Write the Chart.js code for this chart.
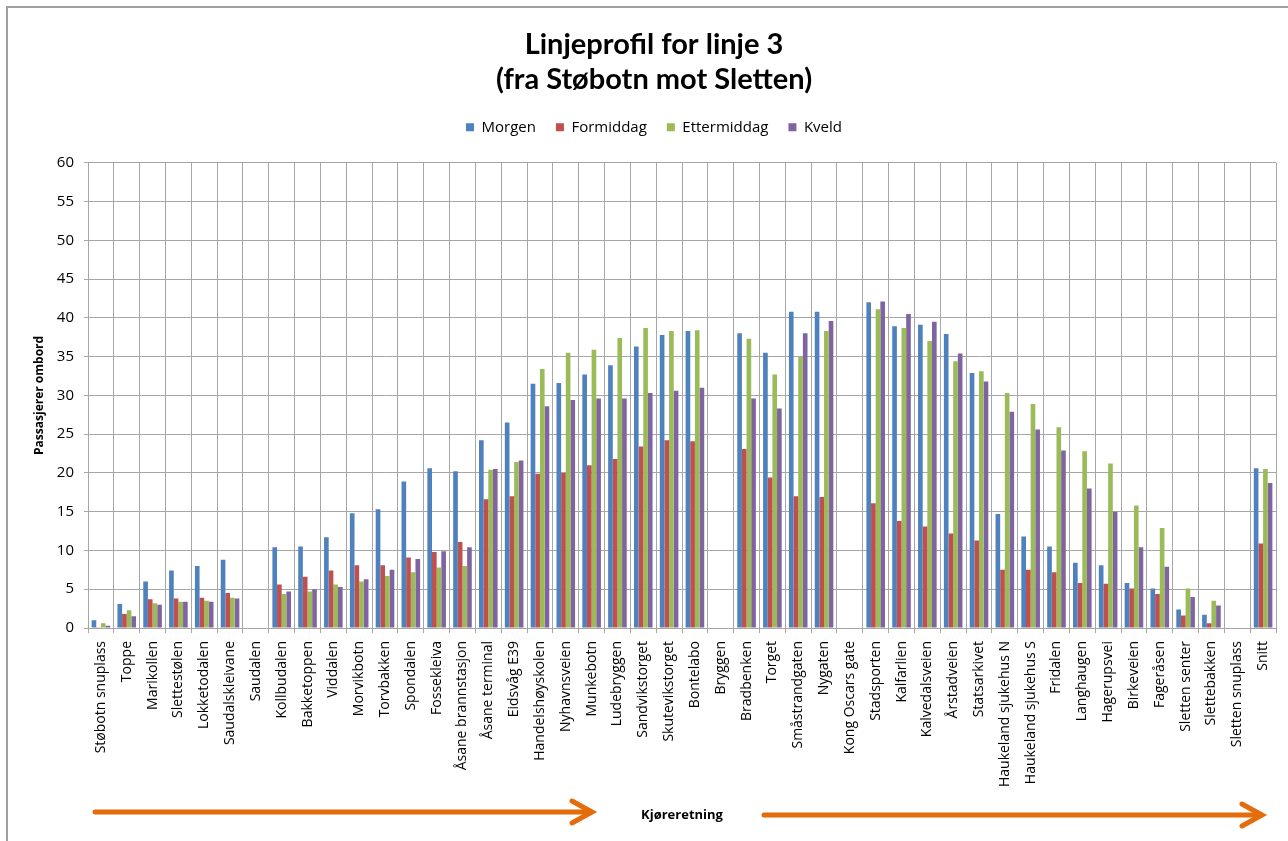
<!DOCTYPE html>
<html lang="no">
<head>
<meta charset="utf-8">
<title>Linjeprofil for linje 3</title>
<script src="https://cdn.jsdelivr.net/npm/chart.js@4.4.1/dist/chart.umd.min.js"></script>
<style>
  html, body { margin: 0; padding: 0; background: #fff; }
  #wrap { position: relative; width: 1288px; height: 841px; overflow: hidden; }
  canvas { display: block; }
</style>
</head>
<body>
<div id="wrap"><canvas id="c" width="1288" height="841"></canvas></div>
<script>
// Stopp langs linje 3, fra Støbotn mot Sletten, pluss gjennomsnitt ("Snitt")
const stops = [
  'Støbotn snuplass', 'Toppe', 'Marikollen', 'Slettestølen', 'Lokketodalen',
  'Saudalskleivane', 'Saudalen', 'Kollbudalen', 'Bakketoppen', 'Viddalen',
  'Morvikbotn', 'Torvbakken', 'Spondalen', 'Fossekleiva', 'Åsane brannstasjon',
  'Åsane terminal', 'Eidsvåg E39', 'Handelshøyskolen', 'Nyhavnsveien', 'Munkebotn',
  'Ludebryggen', 'Sandvikstorget', 'Skutevikstorget', 'Bontelabo', 'Bryggen',
  'Bradbenken', 'Torget', 'Småstrandgaten', 'Nygaten', 'Kong Oscars gate',
  'Stadsporten', 'Kalfarlien', 'Kalvedalsveien', 'Årstadveien', 'Statsarkivet',
  'Haukeland sjukehus N', 'Haukeland sjukehus S', 'Fridalen', 'Langhaugen', 'Hagerupsvei',
  'Birkeveien', 'Fageråsen', 'Sletten senter', 'Slettebakken', 'Sletten snuplass',
  'Snitt'
];

// Passasjerer ombord per tidsperiode (null = ingen registrering)
const morgen = [
  1.0, 3.1, 6.0, 7.4, 8.0, 8.8, null, 10.4, 10.5, 11.7,
  14.8, 15.3, 18.9, 20.6, 20.2, 24.2, 26.5, 31.5, 31.6, 32.7,
  33.9, 36.3, 37.8, 38.3, null, 38.0, 35.5, 40.8, 40.8, null,
  42.0, 38.9, 39.1, 37.9, 32.9, 14.7, 11.8, 10.5, 8.4, 8.1,
  5.8, 5.1, 2.4, 1.7, null, 20.6
];
const formiddag = [
  0.1, 1.8, 3.7, 3.8, 3.9, 4.5, null, 5.6, 6.6, 7.4,
  8.1, 8.1, 9.1, 9.8, 11.1, 16.6, 17.0, 19.9, 20.0, 21.0,
  21.8, 23.4, 24.2, 24.1, null, 23.1, 19.4, 17.0, 16.9, null,
  16.1, 13.8, 13.1, 12.2, 11.3, 7.5, 7.5, 7.2, 5.8, 5.7,
  5.1, 4.4, 1.6, 0.6, null, 10.9
];
const ettermiddag = [
  0.6, 2.3, 3.2, 3.4, 3.5, 3.9, null, 4.4, 4.7, 5.6,
  6.0, 6.7, 7.2, 7.8, 8.0, 20.4, 21.4, 33.4, 35.5, 35.9,
  37.4, 38.7, 38.3, 38.4, null, 37.3, 32.7, 35.0, 38.3, null,
  41.1, 38.7, 37.0, 34.4, 33.1, 30.3, 28.9, 25.9, 22.8, 21.2,
  15.8, 12.9, 5.1, 3.5, null, 20.5
];
const kveld = [
  0.3, 1.5, 3.0, 3.4, 3.4, 3.8, null, 4.7, 5.0, 5.3,
  6.3, 7.5, 8.9, 9.9, 10.4, 20.5, 21.6, 28.6, 29.4, 29.6,
  29.6, 30.3, 30.6, 31.0, null, 29.6, 28.3, 38.0, 39.6, null,
  42.1, 40.5, 39.5, 35.4, 31.8, 27.9, 25.6, 22.9, 18.0, 15.0,
  10.4, 7.9, 4.0, 2.9, null, 18.7
];

const yTicks = [0, 5, 10, 15, 20, 25, 30, 35, 40, 45, 50, 55, 60];

const seriesNames = ['Morgen', 'Formiddag', 'Ettermiddag', 'Kveld'];
const seriesColors = ['#4F81BD', '#C0504D', '#9BBB59', '#8064A2'];
const seriesValues = [morgen, formiddag, ettermiddag, kveld];

const gridColor = '#A6A6A6';
const arrowColor = '#E46C0A';

// Ramme rundt diagrammet
const framePlugin = {
  id: 'frame',
  beforeDraw(chart) {
    const ctx = chart.ctx;
    ctx.save();
    ctx.fillStyle = '#fff';
    ctx.fillRect(0, 0, chart.width, chart.height);
    ctx.strokeStyle = '#A0A0A0';
    ctx.lineWidth = 2;
    ctx.beginPath();
    ctx.moveTo(7, chart.height + 2);
    ctx.lineTo(7, 7);
    ctx.lineTo(chart.width + 2, 7);
    ctx.stroke();
    ctx.restore();
  }
};

// Ekstra luft under forklaringen før plottområdet
const legendSpacePlugin = {
  id: 'legendSpace',
  beforeInit(chart) {
    const legend = chart.legend;
    if (!legend) return;
    const fit = legend.fit;
    legend.fit = function () {
      fit.call(this);
      this.height += 18;
    };
  }
};

// Piler for kjøreretning på hver side av aksetittelen
const directionPlugin = {
  id: 'direction',
  afterDraw(chart) {
    const { ctx, chartArea } = chart;
    const xs = chart.scales.x;
    const cx = (chartArea.left + chartArea.right) / 2;
    const y = xs.bottom - 13;
    const drawArrow = (x0, x1, yy) => {
      ctx.beginPath();
      ctx.moveTo(x0, yy);
      ctx.lineTo(x1 - 2, yy);
      ctx.stroke();
      ctx.beginPath();
      ctx.moveTo(x1 - 20, yy - 11);
      ctx.lineTo(x1, yy);
      ctx.lineTo(x1 - 20, yy + 11);
      ctx.stroke();
    };
    ctx.save();
    ctx.strokeStyle = arrowColor;
    ctx.lineWidth = 5;
    ctx.lineCap = 'round';
    ctx.lineJoin = 'miter';
    drawArrow(chartArea.left + 7, cx - 90, y - 2);
    drawArrow(cx + 82, chartArea.right - 14, y + 1);
    ctx.restore();
  }
};

new Chart(document.getElementById('c'), {
  type: 'bar',
  data: {
    labels: stops,
    datasets: seriesNames.map((name, i) => ({
      label: name,
      data: seriesValues[i],
      backgroundColor: seriesColors[i],
      borderWidth: 0,
      categoryPercentage: 0.72,
      barPercentage: 1.0
    }))
  },
  options: {
    responsive: false,
    animation: false,
    layout: { padding: { left: 30, right: 10, top: 7, bottom: 14 } },
    plugins: {
      title: {
        display: true,
        text: ['Linjeprofil for linje 3', '(fra Støbotn mot Sletten)'],
        color: '#000',
        font: { family: 'Lato', size: 29, weight: 'bold', lineHeight: 1.22 },
        padding: { top: 20, bottom: 2 }
      },
      legend: {
        display: true,
        position: 'top',
        labels: {
          color: '#000',
          font: { family: 'Open Sans', size: 15 },
          boxWidth: 8,
          boxHeight: 8,
          padding: 20
        }
      },
      tooltip: { enabled: false }
    },
    scales: {
      x: {
        grid: { color: gridColor, lineWidth: 1, tickLength: 5, offset: true },
        border: { color: gridColor, width: 1 },
        ticks: {
          autoSkip: false,
          maxRotation: 90,
          minRotation: 90,
          color: '#000',
          padding: 8,
          font: { family: 'Open Sans', size: 14 }
        },
        title: {
          display: true,
          text: 'Kjøreretning',
          color: '#000',
          font: { family: 'Open Sans', size: 13, weight: 'bold' },
          padding: { top: 0, bottom: 4 }
        },
        afterFit(scale) { scale.height = 199; }
      },
      y: {
        min: 0,
        max: 60,
        afterBuildTicks(scale) { scale.ticks = yTicks.map(v => ({ value: v })); },
        grid: { color: gridColor, lineWidth: 1, tickLength: 4 },
        border: { color: gridColor, width: 1 },
        ticks: {
          color: '#000',
          padding: 10,
          font: { family: 'Open Sans', size: 15 }
        },
        title: {
          display: true,
          text: 'Passasjerer ombord',
          color: '#000',
          font: { family: 'Open Sans', size: 12, weight: 'bold' },
          padding: { top: 2, bottom: 4 }
        },
        afterFit(scale) { scale.width = 58; }
      }
    }
  },
  plugins: [framePlugin, legendSpacePlugin, directionPlugin]
});
</script>
</body>
</html>
